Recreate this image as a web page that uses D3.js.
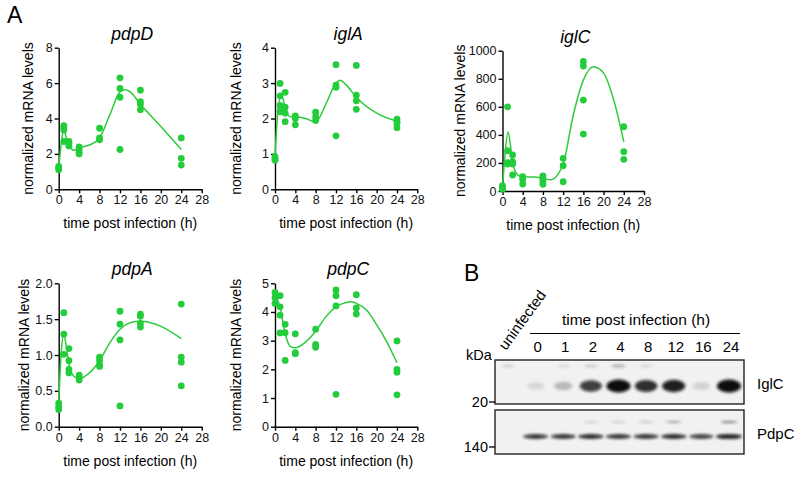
<!DOCTYPE html>
<html lang="en">
<head>
<meta charset="utf-8">
<script src="https://d3js.org/d3.v7.min.js"></script>
<style>
  body { margin: 0; background: #fff; }
  svg { font-family: "Liberation Sans", Arial, sans-serif; }
  .axis path, .axis line { stroke: #000; stroke-width: 1.4px; }
  .axis text { font-size: 12.5px; fill: #111; }
  .dot { fill: #22cc3a; }
  .fit { fill: none; stroke: #2ccc3a; stroke-width: 1.5px; }
</style>
</head>
<body>
<script>
// x ticks shared by all panels
const timeTicks = [0, 4, 8, 12, 16, 20, 24, 28];

// measured replicates, [time (h), normalized mRNA level]
const pdpDPoints = [[0,1.3],[0,1.2],[0,1.1],[1,3.6],[1,3.5],[1,3.35],[1,2.7],[2,2.7],[2,2.6],[2,2.45],
  [4,2.4],[4,2.25],[4,2.1],[4,2.0],[8,3.45],[8,2.9],[8,2.8],[12,6.3],[12,5.7],[12,5.2],[12,2.25],
  [16,5.6],[16,4.95],[16,4.8],[16,4.5],[24,2.9],[24,1.75],[24,1.37]];
const pdpDFit = [[0,1.2],[0.5,2.6],[1,3.4],[1.5,2.9],[2,2.45],[3,2.2],[4,2.35],[6,2.5],[8,2.9],[10,4.2],
  [12,5.5],[13,5.62],[14,5.5],[16,4.8],[20,3.55],[24,2.25]];

const iglAPoints = [[0,0.92],[0,0.87],[0,0.82],[1,2.99],[1,2.64],[1,2.37],[1,2.19],[2,2.74],[2,2.32],[2,2.15],[2,1.91],
  [4,2.07],[4,2.0],[4,1.82],[8,2.18],[8,2.05],[8,1.94],[12,3.52],[12,2.94],[12,2.88],[12,1.51],
  [16,3.5],[16,2.66],[16,2.5],[16,2.26],[24,1.98],[24,1.92],[24,1.86],[24,1.74]];
const iglAFit = [[0,0.9],[0.5,2.1],[1.2,2.65],[1.6,2.55],[2,2.3],[3,2.05],[4,2.05],[6,2.0],[8,1.9],[10,2.4],
  [12,3.0],[12.8,3.08],[14,2.95],[16,2.6],[20,2.15],[24,1.92]];

const iglCPoints = [[0,38],[0,25],[0,12],[1,600],[1,287],[1,202],[1,192],[2,257],[2,209],[2,192],[2,114],
  [4,102],[4,83],[4,50],[8,107],[8,83],[8,66],[8,48],[12,233],[12,180],[12,66],
  [16,923],[16,891],[16,648],[16,406],[24,458],[24,280],[24,226]];
const iglCFit = [[0,20],[0.5,260],[1.1,420],[1.6,320],[2,200],[3,115],[4,100],[6,100],[8,92],[9.5,80],[11,120],
  [12,190],[14,540],[16,790],[18,885],[20,840],[22,650],[24,350]];

const pdpAPoints = [[0,0.33],[0,0.28],[0,0.24],[1,1.59],[1,1.29],[1,1.01],[2,1.09],[2,0.92],[2,0.8],[2,0.75],
  [4,0.72],[4,0.69],[4,0.65],[8,0.97],[8,0.92],[8,0.86],[8,0.84],[12,1.61],[12,1.43],[12,1.21],[12,0.29],
  [16,1.57],[16,1.54],[16,1.44],[16,1.39],[24,1.71],[24,0.97],[24,0.9],[24,0.57]];
const pdpAFit = [[0,0.3],[0.5,1.05],[1,1.28],[1.5,1.12],[2,0.88],[3,0.7],[4,0.67],[6,0.75],[8,0.92],[10,1.17],
  [12,1.36],[14,1.45],[16,1.47],[20,1.4],[24,1.23]];

const pdpCPoints = [[0,4.68],[0,4.5],[0,4.3],[1,4.57],[1,4.18],[1,3.89],[1,3.27],[2,3.57],[2,3.28],[2,2.31],
  [4,3.24],[4,2.58],[4,2.54],[8,3.4],[8,2.87],[8,2.77],[12,4.77],[12,4.57],[12,4.21],[12,1.13],
  [16,4.6],[16,4.14],[16,3.93],[24,2.99],[24,2.0],[24,1.9],[24,1.11]];
const pdpCFit = [[0,4.6],[1,4.18],[2,3.25],[3,2.8],[4,2.75],[6,2.95],[8,3.33],[10,3.83],[12,4.18],[14,4.33],
  [15,4.36],[16,4.3],[18,4.07],[20,3.56],[22,2.96],[24,2.23]];

// western blot lanes and rough band intensities (0..1)
const blotLanes = ["uninfected", "0", "1", "2", "4", "8", "12", "16", "24"];
const iglCBand = [0, 0.1, 0.22, 0.75, 1.0, 0.82, 0.88, 0.12, 1.0];
const iglCFaint = [0.15, 0, 0.1, 0.18, 0.25, 0.12, 0, 0, 0];
const pdpCBand = [0, 0.85, 0.85, 0.9, 0.85, 0.85, 0.9, 0.8, 0.95];
const pdpCFaint = [0, 0, 0, 0.22, 0.22, 0.25, 0.4, 0, 0.5];

const svg = d3.select("body").append("svg")
  .attr("width", 800)
  .attr("height", 485);

// blur for blot bands
const defs = svg.append("defs");
defs.append("filter").attr("id", "blur").attr("x", "-50%").attr("y", "-100%").attr("width", "200%").attr("height", "300%")
  .append("feGaussianBlur").attr("stdDeviation", 1.6);

function drawPanel(opt) {
  const g = svg.append("g");
  const x = d3.scaleLinear().domain([0, 28]).range([opt.left, opt.right]);
  const y = d3.scaleLinear().domain([0, opt.ymax]).range([opt.bottom, opt.top]);

  g.append("g").attr("class", "axis")
    .attr("transform", "translate(0," + opt.bottom + ")")
    .call(d3.axisBottom(x).tickValues(timeTicks).tickSize(4).tickSizeOuter(0).tickPadding(2));

  g.append("g").attr("class", "axis")
    .attr("transform", "translate(" + opt.left + ",0)")
    .call(d3.axisLeft(y).tickValues(opt.ticks).tickFormat(opt.fmt).tickSize(4).tickSizeOuter(0).tickPadding(2));

  g.append("path")
    .datum(opt.fit)
    .attr("class", "fit")
    .attr("d", d3.line().x(d => x(d[0])).y(d => y(d[1])).curve(d3.curveMonotoneX));

  g.selectAll(".dot").data(opt.points).join("circle")
    .attr("class", "dot")
    .attr("cx", d => x(d[0]))
    .attr("cy", d => y(d[1]))
    .attr("r", 3.4);

  // gene name
  g.append("text")
    .attr("x", (opt.left + opt.right) / 2 + 2)
    .attr("y", opt.top - 8)
    .attr("text-anchor", "middle")
    .style("font-size", "17.5px")
    .style("font-style", "italic")
    .text(opt.name);

  g.append("text")
    .attr("x", (opt.left + opt.right) / 2)
    .attr("y", opt.bottom + 39)
    .attr("text-anchor", "middle")
    .style("font-size", "14px")
    .text("time post infection (h)");

  g.append("text")
    .attr("transform", "translate(" + opt.labelX + "," + (opt.top + opt.bottom) / 2 + ") rotate(-90)")
    .attr("text-anchor", "middle")
    .style("font-size", "14px")
    .text("normalized mRNA levels");
}

const f0 = d3.format("d");
const f1 = d3.format(".1f");

drawPanel({ name: "pdpD", left: 58.7, right: 201.7, top: 47.7, bottom: 189.3, ymax: 8, ticks: [0, 2, 4, 6, 8], fmt: f0,
  points: pdpDPoints, fit: pdpDFit, labelX: 33 });
drawPanel({ name: "iglA", left: 275, right: 417.3, top: 47.7, bottom: 189.3, ymax: 4, ticks: [0, 1, 2, 3, 4], fmt: f0,
  points: iglAPoints, fit: iglAFit, labelX: 241 });
drawPanel({ name: "iglC", left: 502.5, right: 644, top: 50.7, bottom: 191, ymax: 1000, ticks: [0, 200, 400, 600, 800, 1000], fmt: f0,
  points: iglCPoints, fit: iglCFit, labelX: 465 });
drawPanel({ name: "pdpA", left: 58.7, right: 201.7, top: 283.3, bottom: 426.7, ymax: 2, ticks: [0, 0.5, 1, 1.5, 2], fmt: f1,
  points: pdpAPoints, fit: pdpAFit, labelX: 29 });
drawPanel({ name: "pdpC", left: 275, right: 417.3, top: 283.3, bottom: 426.7, ymax: 5, ticks: [0, 1, 2, 3, 4, 5], fmt: f0,
  points: pdpCPoints, fit: pdpCFit, labelX: 241 });

// panel letters
svg.append("text").attr("x", 7).attr("y", 23).style("font-size", "23px").text("A");
svg.append("text").attr("x", 464).attr("y", 281).style("font-size", "23px").text("B");

// ---- western blot ----
const blot = svg.append("g");
const lane = d3.scalePoint().domain(blotLanes).range([508, 729]);
const boxL = 495, boxR = 744;
const topBox = [360, 404], botBox = [410, 454];

blot.append("text")
  .attr("x", 636).attr("y", 325)
  .attr("text-anchor", "middle")
  .style("font-size", "15.5px")
  .text("time post infection (h)");

blot.append("line")
  .attr("x1", 530).attr("x2", 740)
  .attr("y1", 333.5).attr("y2", 333.5)
  .attr("stroke", "#000").attr("stroke-width", 1.2);

blot.selectAll(".lane").data(blotLanes.slice(1)).join("text")
  .attr("class", "lane")
  .attr("x", d => lane(d) + 2)
  .attr("y", 352)
  .attr("text-anchor", "middle")
  .style("font-size", "15px")
  .text(d => d);

blot.append("text")
  .attr("transform", "translate(506,351) rotate(-54)")
  .style("font-size", "15px")
  .text("uninfected");

[topBox, botBox].forEach(b => {
  blot.append("rect")
    .attr("x", boxL).attr("y", b[0])
    .attr("width", boxR - boxL).attr("height", b[1] - b[0])
    .attr("fill", "#f1f1f1")
    .attr("stroke", "#222").attr("stroke-width", 1.4);
});

function bands(values, cy, w, h) {
  blot.append("g").attr("filter", "url(#blur)")
    .selectAll("ellipse").data(values.map((v, i) => [blotLanes[i], v]).filter(d => d[1] > 0)).join("ellipse")
    .attr("cx", d => lane(d[0]))
    .attr("cy", cy)
    .attr("rx", d => w * (0.7 + 0.3 * d[1]))
    .attr("ry", d => h * (0.55 + 0.45 * d[1]))
    .attr("fill", "#0a0a0a")
    .attr("fill-opacity", d => Math.min(1, d[1] * 1.05));
}

bands(iglCFaint, 366, 9, 2.5);
bands(iglCBand, 386, 12, 6.5);
bands(pdpCFaint, 422, 10, 1.2);
bands(pdpCBand, 436.5, 13, 2.4);

// molecular weight marks
[["20", topBox[1] - 2], ["140", botBox[1] - 7]].forEach(m => {
  blot.append("line")
    .attr("x1", boxL - 6).attr("x2", boxL)
    .attr("y1", m[1]).attr("y2", m[1])
    .attr("stroke", "#000").attr("stroke-width", 1.3);
  blot.append("text")
    .attr("x", boxL - 7).attr("y", m[1] + 5)
    .attr("text-anchor", "end")
    .style("font-size", "14.5px")
    .text(m[0]);
});

blot.append("text").attr("x", 466).attr("y", 360).style("font-size", "14.5px").text("kDa");
blot.append("text").attr("x", 757).attr("y", 389).style("font-size", "15px").text("IglC");
blot.append("text").attr("x", 757).attr("y", 439).style("font-size", "15px").text("PdpC");
</script>
</body>
</html>
